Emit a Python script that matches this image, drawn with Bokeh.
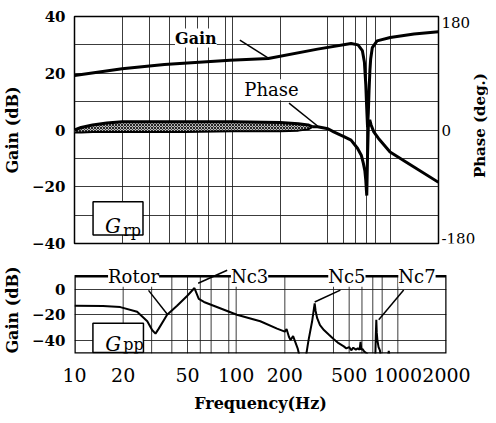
from math import pi
from bokeh.plotting import figure
from bokeh.models import (Range1d, FixedTicker, Grid, Label, Arrow,
                          BoxAnnotation, PrintfTickFormatter)
from bokeh.layouts import column, row
from bokeh.embed import file_html
from bokeh.resources import INLINE

FONT = "DejaVu Serif"

# ---------------- data: G_rp (top) ----------------
gain_freq = [10, 20, 37, 96, 168, 344, 560, 620, 660, 680, 694, 703, 712, 720, 728, 737, 745, 763, 818, 990, 1400, 2000]
gain_db = [19.2, 21.6, 23.1, 24.6, 25.2, 28.5, 30.5, 30.0, 28, 24, 16, 8, 1, 6, 14, 21, 25, 29, 31.4, 32.6, 33.8, 34.6]

phase_band_freq = [10, 11, 13, 16, 20, 30, 50, 100, 200, 260, 300, 320]
phase_band_hi = [0, 4, 8, 11, 13, 13, 13, 13, 12, 10, 8, 5]
phase_band_lo = [-4, -4, -3, -3, -3, -3, -3, -2, -2, -1, 1, 5]

phase_freq = [320, 344, 400, 435, 509, 560, 615, 650, 670, 685, 694, 700, 704, 712, 720, 735, 750, 780, 833, 988, 1253, 2000]
phase_deg = [5, 5, 2, -3, -11, -16, -29, -40, -53, -65, -80, -95, -104, -40, 5, 16, 8, -3, -13, -35, -51, -83]

# ---------------- data: G_pp (bottom) ----------------
gpp_freq_a = [10, 15, 19.2, 24.4, 28.2, 30.2, 31.7, 33.2, 37.4, 43.1, 49.7, 55.2, 58.7, 63.2, 101, 141, 179, 200, 205, 212, 217, 225, 240, 250]
gpp_db_a = [-13, -13.2, -14, -17.6, -25, -31.8, -34.6, -30.7, -19.9, -13, -5.4, 0.8, -7.7, -10, -19.9, -25, -30.7, -33, -31, -37, -39.5, -36.5, -46, -55]
gpp_freq_b = [268, 280, 295, 302, 306, 310, 317, 330, 349, 375, 402, 430, 463, 480, 500, 515, 530, 550, 565, 580, 588, 595, 605, 620, 645, 660]
gpp_db_b = [-55, -40, -25, -16, -11.2, -17, -22.6, -28, -31.8, -35.5, -39, -42, -44.5, -46, -45, -47.5, -45.5, -47, -46, -47, -41, -47, -46.5, -48.5, -50, -55]
gpp_freq_c = [725, 731, 736, 741, 748, 760, 775, 790]
gpp_db_c = [-55, -35, -23.8, -34, -40, -45, -47.5, -55]
gpp_freq_d = [862, 879, 895]
gpp_db_d = [-55, -48, -55]

# ticks / grid
x_tick_freqs = [10, 20, 50, 100, 200, 500, 1000, 2000]
x_grid_freqs = [20, 30, 40, 50, 60, 70, 90, 100, 200, 400, 500, 600, 700, 800, 1000]
top_y_ticks = [-40, -20, 0, 20, 40]
top_y_grid = [-30, -20, -10, 0, 10, 20, 30]
phase_ticks = [-180, 0, 180]
phase_tick_labels = ["-180", "0", "180"]
bot_y_ticks = [-40, -20, 0]
bot_frame = (10, 2000, -50, 10)   # left, right, bottom, top of the lower frame

GRID_COLOR = "#1a1a1a"
GRID_ALPHA = 0.85
GRID = dict(grid_line_color=GRID_COLOR, grid_line_alpha=GRID_ALPHA, grid_line_width=1)

TOP_BORDER, BOTTOM_BORDER, TOP_H = 16, 15, 258


def style_left(ax):
    ax.axis_line_color = None
    ax.major_tick_line_color = None
    ax.minor_tick_line_color = None
    ax.major_tick_out = 0
    ax.major_tick_in = 0
    ax.major_label_standoff = 9
    ax.major_label_text_font = FONT
    ax.major_label_text_font_style = "bold"
    ax.major_label_text_font_size = "15px"
    ax.major_label_text_color = "black"
    ax.axis_label = "Gain (dB)"
    ax.axis_label_text_font = FONT
    ax.axis_label_text_font_style = "bold"
    ax.axis_label_text_font_size = "16px"
    ax.axis_label_text_color = "black"
    ax.axis_label_standoff = 7


# ================= top figure =================
p1 = figure(width=440, height=TOP_H, x_axis_type="log", x_range=Range1d(10, 2000),
            y_range=Range1d(-40, 40), x_axis_location=None, title=None,
            output_backend="svg", toolbar_location=None,
            min_border_left=66, min_border_right=2, min_border_top=TOP_BORDER,
            min_border_bottom=BOTTOM_BORDER)
p1.outline_line_color = "black"
p1.outline_line_width = 1.5
p1.outline_line_alpha = 1
for g in p1.xgrid:
    g.visible = False
p1.add_layout(Grid(dimension=0, ticker=FixedTicker(ticks=x_grid_freqs), **GRID))
p1.ygrid.ticker = FixedTicker(ticks=top_y_grid)
for k, v in GRID.items():
    setattr(p1.ygrid, k, v)
p1.yaxis.ticker = FixedTicker(ticks=top_y_ticks)
style_left(p1.yaxis[0])

p1.extra_y_ranges = {"phase": Range1d(phase_ticks[0], phase_ticks[-1])}

p1.varea(x=phase_band_freq, y1=phase_band_lo, y2=phase_band_hi, y_range_name="phase",
         fill_color="#bbbbbb", hatch_pattern="x", hatch_color="black", hatch_scale=3,
         hatch_weight=0.8)
p1.line(phase_band_freq, phase_band_hi, y_range_name="phase", line_color="black", line_width=3)
p1.line(phase_band_freq, phase_band_lo, y_range_name="phase", line_color="black", line_width=2)
p1.line(phase_freq, phase_deg, y_range_name="phase", line_color="black", line_width=3)
p1.line(gain_freq, gain_db, line_color="black", line_width=3)

p1.add_layout(Arrow(end=None, x_start=111, y_start=31.7, x_end=168, y_end=25.3,
                    line_color="black", line_width=1.5))
p1.add_layout(Arrow(end=None, x_start=227, y_start=9.5, x_end=344, y_end=1.4,
                    line_color="black", line_width=1.5))
lab = dict(text_font=FONT, text_align="center", text_baseline="middle",
           background_fill_color="white", text_color="black")
p1.add_layout(Label(x=58.5, y=32.4, text="Gain", text_font_size="16px",
                    text_font_style="bold", **lab))
p1.add_layout(Label(x=176, y=14.2, text="Phase", text_font_size="18px", **lab))
p1.add_layout(BoxAnnotation(left=13.1, right=27.1, top=-25.3, bottom=-37.0,
                            fill_color="white", fill_alpha=1, line_color="black",
                            line_width=1.5, line_alpha=1))
p1.add_layout(Label(x=15.6, y=-34.0, text="G", text_font=FONT, text_font_size="20px",
                    text_font_style="italic", text_baseline="alphabetic", text_color="black"))
p1.add_layout(Label(x=20.3, y=-35.4, text="rp", text_font=FONT, text_font_size="16px",
                    text_baseline="alphabetic", text_color="black"))

# strip at the right (its frame is aligned with the upper frame): phase scale + title
pr = figure(width=48, height=TOP_H, x_range=Range1d(0, 48), title=None,
            y_range=Range1d(phase_ticks[0], phase_ticks[-1]),
            x_axis_location=None, y_axis_location=None, output_backend="svg",
            toolbar_location=None, min_border=0, outline_line_color=None)
for g in pr.grid:
    g.visible = False
baselines = {phase_ticks[0]: "bottom", phase_ticks[1]: "middle", phase_ticks[2]: "top"}
for tv, tl in zip(phase_ticks, phase_tick_labels):
    pr.add_layout(Label(x=1, y=tv, text=tl, text_font=FONT, text_font_size="15px",
                        text_align="left", text_baseline=baselines[tv], text_color="black"))
pr.add_layout(Label(x=39, y=7, text="Phase (deg.)", angle=pi / 2, text_font=FONT,
                    text_font_size="15px", text_font_style="bold", text_align="center",
                    text_baseline="middle", text_color="black"))

# ================= bottom figure =================
p2 = figure(width=488, height=157, x_axis_type="log", x_range=p1.x_range, title=None,
            y_range=Range1d(-50, 17.5), output_backend="svg", toolbar_location=None,
            min_border_left=66, min_border_right=42, min_border_top=8, min_border_bottom=52)
p2.outline_line_color = None
p2.xgrid.visible = False
p2.ygrid.ticker = FixedTicker(ticks=bot_y_ticks)
for k, v in GRID.items():
    setattr(p2.ygrid, k, v)
p2.segment(x0=x_grid_freqs, y0=[bot_frame[2]] * len(x_grid_freqs),
           x1=x_grid_freqs, y1=[bot_frame[3]] * len(x_grid_freqs),
           line_color=GRID_COLOR, line_alpha=GRID_ALPHA, line_width=1)
p2.quad(left=[bot_frame[0]], right=[bot_frame[1]], bottom=[bot_frame[2]], top=[bot_frame[3]],
        fill_color=None, line_color="black", line_width=2.5)
p2.yaxis.ticker = FixedTicker(ticks=bot_y_ticks)
style_left(p2.yaxis[0])

xa = p2.xaxis[0]
xa.ticker = FixedTicker(ticks=x_tick_freqs)
xa.formatter = PrintfTickFormatter(format="%d")
xa.axis_line_color = None
xa.major_tick_line_color = None
xa.minor_tick_line_color = None
xa.major_tick_out = 0
xa.major_tick_in = 0
xa.major_label_standoff = 14
xa.major_label_text_font = FONT
xa.major_label_text_font_size = "19px"
xa.major_label_text_color = "black"
xa.axis_label = "Frequency(Hz)"
xa.axis_label_text_font = FONT
xa.axis_label_text_font_style = "bold"
xa.axis_label_text_font_size = "16px"
xa.axis_label_text_color = "black"
xa.axis_label_standoff = 9

for fx, dy in ((gpp_freq_a, gpp_db_a), (gpp_freq_b, gpp_db_b),
               (gpp_freq_c, gpp_db_c), (gpp_freq_d, gpp_db_d)):
    p2.line(fx, dy, line_color="black", line_width=2)

for xs, ys, xe, ye in ((28.7, -1, 37.6, -19.7), (58.2, 4.5, 88, 14.6),
                       (306, -10, 441, -0.8), (762, -23.8, 1087, -0.8)):
    p2.add_layout(Arrow(end=None, x_start=xs, y_start=ys, x_end=xe, y_end=ye,
                        line_color="black", line_width=1.5))
for tx, tt in ((23.2, "Rotor"), (121, "Nc3"), (484, "Nc5"), (1313, "Nc7")):
    p2.add_layout(Label(x=tx, y=bot_frame[3], text=tt, text_font_size="18px", **lab))

p2.add_layout(BoxAnnotation(left=13.0, right=26.7, top=-26.6, bottom=-49.3,
                            fill_color="white", fill_alpha=1, line_color="black",
                            line_width=1.5, line_alpha=1))
p2.add_layout(Label(x=15.5, y=-42.4, text="G", text_font=FONT, text_font_size="20px",
                    text_font_style="italic", text_baseline="alphabetic", text_color="black"))
p2.add_layout(Label(x=20.0, y=-43.4, text="pp", text_font=FONT, text_font_size="16px",
                    text_baseline="alphabetic", text_color="black"))

layout = column(row(p1, pr, spacing=0), p2, spacing=0)
open("out.html", "w").write(file_html(layout, INLINE))
